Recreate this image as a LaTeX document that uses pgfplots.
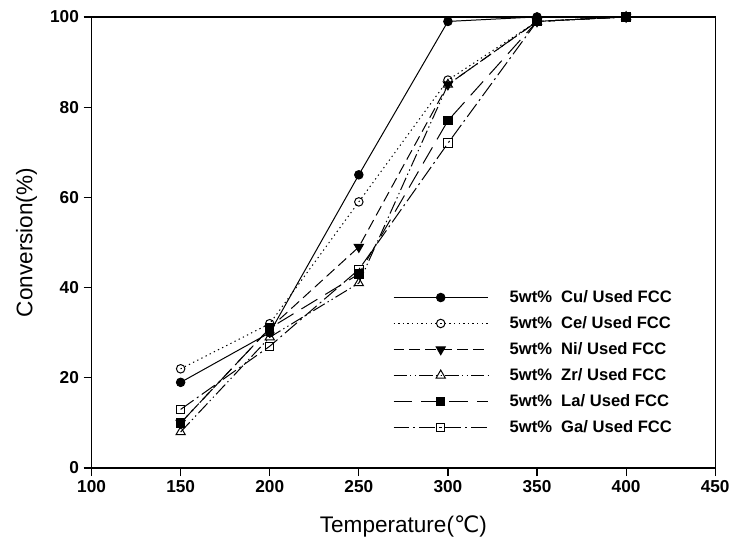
\documentclass[border=0pt]{standalone}
\usepackage{fontspec}
\setmainfont{Liberation Sans}
\newfontfamily\dejavu{DejaVu Sans}
\usepackage{pgfplots}
\pgfplotsset{compat=1.18}
\begin{document}
\begin{tikzpicture}
\begin{axis}[
  scale only axis,
  width=470pt, height=340pt,
  xmin=100, xmax=450, ymin=0, ymax=100,
  xtick={100,150,...,450}, ytick={0,20,...,100},
  tick align=outside, tick pos=left,
  major tick length=6pt,
  axis line style={line width=0.9pt},
  every tick/.style={black, line width=0.9pt},
  /pgf/number format/assume math mode=true,
  tick label style={font=\bfseries\fontsize{13}{15}\selectfont},
  xlabel={Temperature({\dejavu ℃})},
  ylabel={Conversion(\%)},
  label style={font=\fontsize{17}{20}\selectfont},
  xlabel style={yshift=-10pt},
  ylabel style={yshift=3pt},
  legend cell align=left,
  legend style={draw=none, fill=none, inner sep=0pt,
    at={(rel axis cs:0.483,0.40)}, anchor=north west,
    font=\bfseries\fontsize{12.5}{15}\selectfont, row sep=5pt, column sep=14pt},
  legend image code/.code={\draw[mark repeat=2,mark phase=2,#1]
    plot coordinates {(0cm,0cm)(1.25cm,0cm)(2.5cm,0cm)};},
  every axis plot/.append style={black, line width=0.75pt},
]
\addplot[solid, mark=*, mark size=3.2pt] coordinates
  {(150,19) (200,30) (250,65) (300,99) (350,100) (400,100)};
\addlegendentry{5wt\%\ \ Cu/ Used FCC}
\addplot[dash pattern=on 1pt off 2.5pt, mark=o, mark size=3.2pt, mark options={solid, fill=white}] coordinates
  {(150,22) (200,32) (250,59) (300,86) (350,99) (400,100)};
\addlegendentry{5wt\%\ \ Ce/ Used FCC}
\addplot[dash pattern=on 8pt off 4pt, mark=triangle*, mark size=4pt, mark options={solid, rotate=180}] coordinates
  {(150,10) (200,31) (250,49) (300,85) (350,99) (400,100)};
\addlegendentry{5wt\%\ \ Ni/ Used FCC}
\addplot[dash pattern=on 10pt off 2.5pt on 1pt off 2.5pt on 1pt off 2.5pt, mark=triangle, mark size=4pt, mark options={solid, fill=white}] coordinates
  {(150,8) (200,29) (250,41) (300,85) (350,99) (400,100)};
\addlegendentry{5wt\%\ \ Zr/ Used FCC}
\addplot[dash pattern=on 14pt off 7pt, mark=square*, mark size=3.2pt, mark options={solid}] coordinates
  {(150,10) (200,31) (250,43) (300,77) (350,99) (400,100)};
\addlegendentry{5wt\%\ \ La/ Used FCC}
\addplot[dash pattern=on 12pt off 3pt on 1.5pt off 3pt, mark=square, mark size=3.2pt, mark options={solid, fill=white}] coordinates
  {(150,13) (200,27) (250,44) (300,72) (350,99) (400,100)};
\addlegendentry{5wt\%\ \ Ga/ Used FCC}
\end{axis}
% page frame, in the reference's proportions
\path ([shift={(-69pt,-57pt)}]current axis.south west) rectangle ([shift={(11.2pt,12.75pt)}]current axis.north east);
\end{tikzpicture}
\end{document}
